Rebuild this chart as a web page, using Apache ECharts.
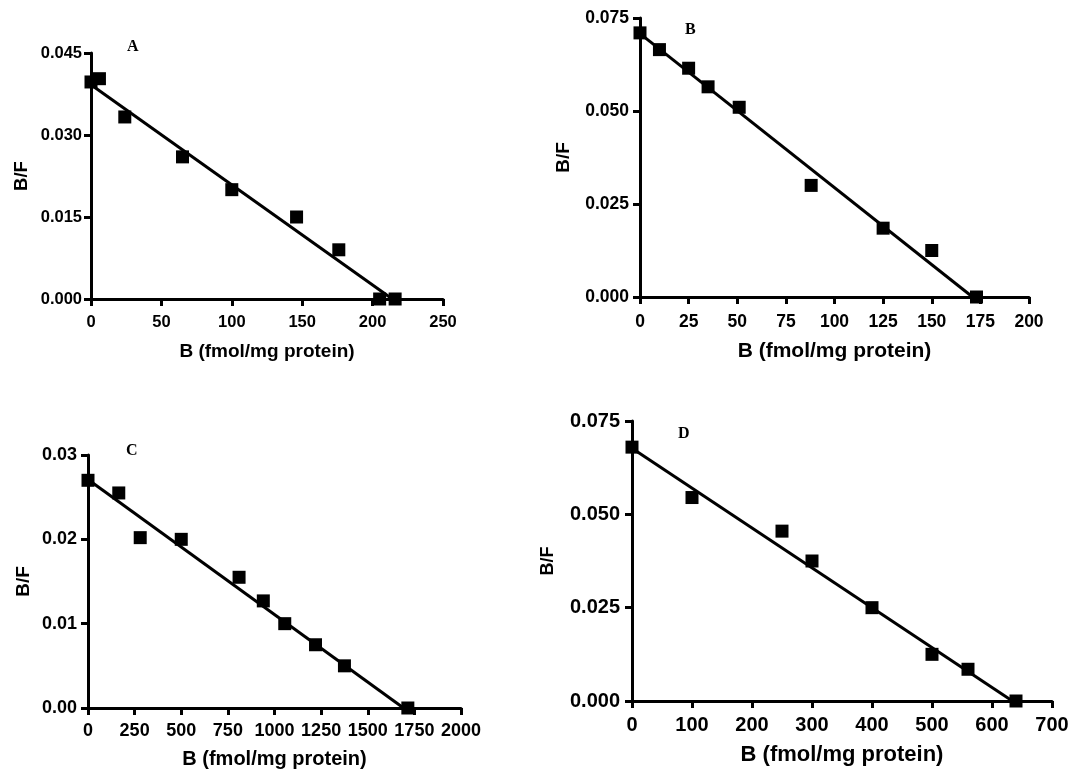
<!DOCTYPE html>
<html>
<head>
<meta charset="utf-8">
<script src="https://cdn.jsdelivr.net/npm/echarts@6/dist/echarts.min.js"></script>
<style>
  html, body { margin: 0; padding: 0; background: #fff; }
  #chart { width: 1074px; height: 770px; }
</style>
</head>
<body>
<div id="chart"></div>
<script>
// Panel A
var bA = [0, 6, 24, 65, 100, 146, 176, 205, 216];
var bfA = [0.0397, 0.0403, 0.0333, 0.026, 0.020, 0.015, 0.009, 0, 0];
var fitA = [[0, 0.0392], [214, 0]];
// Panel B
var bB = [0, 10, 25, 35, 51, 88, 125, 150, 173];
var bfB = [0.0710, 0.0665, 0.0615, 0.0565, 0.0510, 0.0300, 0.0185, 0.0125, 0];
var fitB = [[0, 0.0708], [171, 0]];
// Panel C
var bC = [0, 165, 280, 500, 810, 940, 1055, 1220, 1375, 1715];
var bfC = [0.0270, 0.0255, 0.0202, 0.0200, 0.0155, 0.0127, 0.0100, 0.0075, 0.0050, 0];
var fitC = [[0, 0.0271], [1692, 0]];
// Panel D
var bD = [0, 100, 250, 300, 400, 500, 560, 640];
var bfD = [0.0680, 0.0545, 0.0455, 0.0375, 0.0250, 0.0125, 0.0085, 0];
var fitD = [[0, 0.0677], [634, 0]];

var panelNames = ['A', 'B', 'C', 'D'];
var xTitle = 'B (fmol/mg protein)';
var yTitle = 'B/F';

var grids = [
  { left: 91, top: 53, width: 352, height: 246 },
  { left: 640, top: 18, width: 389, height: 279 },
  { left: 88, top: 455, width: 373, height: 254 },
  { left: 632, top: 421, width: 420, height: 280 }
];
var xRanges = [[0, 250, 50], [0, 200, 25], [0, 2000, 250], [0, 700, 100]];
var yRanges = [[0, 0.045, 0.015, 3], [0, 0.075, 0.025, 3], [0, 0.03, 0.01, 2], [0, 0.075, 0.025, 3]];
var labelPos = [[122, 34], [680, 17], [121, 438], [673, 421]];

// per panel text sizes / gaps, [tick, xname, yname, xMargin, yMargin, xGap, yGap]
var sizes = [
  [16.5, 19, 18.5, 15, 9, 43, 60],
  [17.5, 21, 19, 16, 11, 44, 67],
  [18, 20, 19, 14, 11, 41, 55],
  [20, 22, 18, 14, 12, 43, 75]
];

var font = 'Liberation Sans, Arial, Helvetica, sans-serif';
var axisLine = { show: true, lineStyle: { color: '#000', width: 3 } };
var axisTick = { show: true, length: 7, lineStyle: { color: '#000', width: 3 } };

function zip(xs, ys) {
  return xs.map(function (x, i) { return [x, ys[i]]; });
}

var xAxes = [], yAxes = [], series = [], titles = [];
var pts = [zip(bA, bfA), zip(bB, bfB), zip(bC, bfC), zip(bD, bfD)];
var fits = [fitA, fitB, fitC, fitD];

for (var i = 0; i < 4; i++) {
  var s = sizes[i];
  xAxes.push({
    type: 'value', gridIndex: i,
    min: xRanges[i][0], max: xRanges[i][1], interval: xRanges[i][2],
    name: xTitle, nameLocation: 'middle', nameGap: s[5],
    nameTextStyle: { color: '#000', fontSize: s[1], fontWeight: 'bold', fontFamily: font },
    axisLine: axisLine, axisTick: axisTick, splitLine: { show: false },
    axisLabel: {
      margin: s[3], color: '#000', fontSize: s[0], fontWeight: 'bold', fontFamily: font,
      formatter: function (v) { return String(v); }
    }
  });
  (function (dec) {
    yAxes.push({
      type: 'value', gridIndex: i,
      min: yRanges[i][0], max: yRanges[i][1], interval: yRanges[i][2],
      name: yTitle, nameLocation: 'middle', nameGap: s[6],
      nameTextStyle: { color: '#000', fontSize: s[2], fontWeight: 'bold', fontFamily: font },
      axisLine: axisLine, axisTick: axisTick, splitLine: { show: false },
      axisLabel: {
        margin: s[4], color: '#000', fontSize: s[0], fontWeight: 'bold', fontFamily: font,
        formatter: function (v) { return v.toFixed(dec); }
      }
    });
  })(yRanges[i][3]);
  series.push({
    type: 'line', xAxisIndex: i, yAxisIndex: i, data: fits[i],
    showSymbol: false, lineStyle: { color: '#000', width: 3 }, z: 2, silent: true
  });
  series.push({
    type: 'scatter', xAxisIndex: i, yAxisIndex: i, data: pts[i],
    symbol: 'rect', symbolSize: 13, itemStyle: { color: '#000', opacity: 1 }, clip: false, z: 3
  });
  titles.push({
    text: panelNames[i], left: labelPos[i][0], top: labelPos[i][1],
    textStyle: { color: '#000', fontSize: 16, fontWeight: 'bold', fontFamily: 'Liberation Serif, Times New Roman, serif' }
  });
}

var chart = echarts.init(document.getElementById('chart'));
chart.setOption({
  animation: false,
  backgroundColor: '#fff',
  title: titles,
  grid: grids,
  xAxis: xAxes,
  yAxis: yAxes,
  series: series
});
</script>
</body>
</html>
